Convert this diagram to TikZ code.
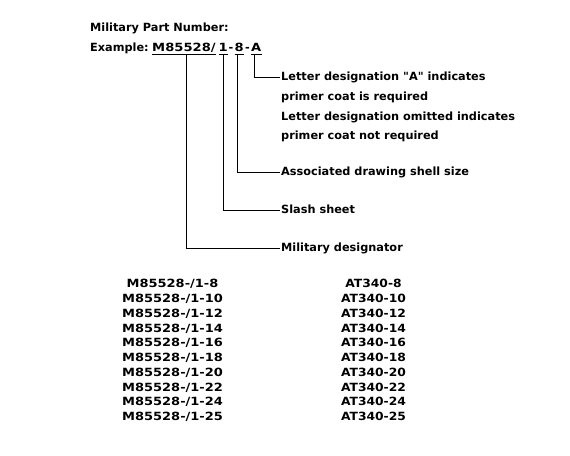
\documentclass[tikz,border=0pt]{standalone}
\usepackage{fontspec}
\newfontfamily\dvfont{DejaVu Sans}
\begin{document}
\begin{tikzpicture}[x=1pt,y=-1pt,
  every node/.style={inner sep=0pt, font=\dvfont\fontsize{11.3}{14}\selectfont\bfseries},
  txt/.style={anchor=base west},
  part/.style={anchor=base west, xscale=1.16},
  hy/.style={anchor=base},
  desc/.style={anchor=west, text height=8pt, text depth=2pt},
  tabl/.style={anchor=base, xscale=1.15},
  tabr/.style={anchor=base, xscale=1.09},
  conn/.style={line width=1pt},
  uline/.style={line width=1pt}]
\useasboundingbox[fill=white] (0,0) rectangle (570,455);
% header
\node[txt] (title) at (90,31.5) {Military Part Number:};
\node[txt] (ex) at (90,51) {Example:};
\node[part] (pm) at (152,51) {M85528/};
\node[part] (p1) at (218.5,51) {1};
\node[hy] (h1) at (231,51) {-};
\node[part] (p8) at (234.5,51) {8};
\node[hy] (h2) at (247.5,51) {-};
\node[part] (pa) at (251,51) {A};
% underlines
\foreach \n in {pm,p1,p8,pa}
  \draw[uline] ([yshift=-3pt]\n.base west) -- ([yshift=-3pt]\n.base east);
% descriptions
\node[desc] (dA1) at (281,77.5) {Letter designation "A" indicates};
\node[desc] (dA2) at (281,97.5) {primer coat is required};
\node[desc] (dA3) at (281,117) {Letter designation omitted indicates};
\node[desc] (dA4) at (281,136.5) {primer coat not required};
\node[desc] (dsz) at (281,172.5) {Associated drawing shell size};
\node[desc] (dsl) at (281,210.5) {Slash sheet};
\node[desc] (dmil) at (281,248) {Military designator};
% connectors
\draw[conn] ([yshift=-3pt,xshift=3pt]pm.base) |- ([xshift=-1pt]dmil.west);
\draw[conn] ([yshift=-3pt,xshift=0pt]p1.base) |- ([xshift=-1pt]dsl.west);
\draw[conn] ([yshift=-3pt,xshift=-1.5pt]p8.base) |- ([xshift=-1pt]dsz.west);
\draw[conn] ([yshift=-3pt,xshift=-1.5pt]pa.base) |- ([xshift=-1pt]dA1.west);
% table
\foreach \s [count=\i] in {8,10,12,14,16,18,20,22,24,25}{
  \node[tabl] (l\i) at (172.5,{287.7+14.78*(\i-1)}) {M85528-/1-\s};
  \node[tabr] (r\i) at (373.5,{287.7+14.78*(\i-1)}) {AT340-\s};
}
\end{tikzpicture}
\end{document}
